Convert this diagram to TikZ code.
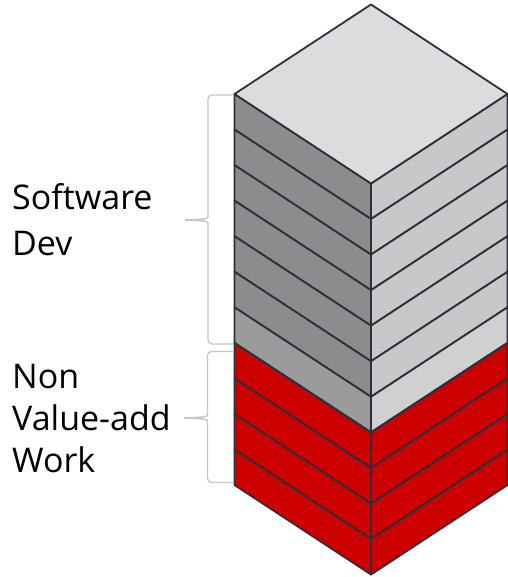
\documentclass[tikz,border=0pt]{standalone}
\usepackage{fontspec}
\setmainfont{Open Sans}
\definecolor{edge}{HTML}{2B303B}
\definecolor{topc}{HTML}{DCDCDC}
\definecolor{gl}{HTML}{8C8C8C}
\definecolor{gr}{HTML}{C8C8C8}
\definecolor{glb}{HTML}{9B9B9B}
\definecolor{grb}{HTML}{D0D0D0}
\definecolor{rd}{HTML}{CC0000}
\definecolor{brcol}{HTML}{C6C6C6}

\begin{document}
\begin{tikzpicture}[x=1pt,y=-1pt,
		face/.style={draw=edge,line width=1.8pt,line join=round},
		brc/.style={draw=brcol,line width=1.4pt,rounded corners=4pt},
		lbl/.style={font=\fontsize{34}{40}\selectfont,inner sep=0pt,anchor=base west}]
	\useasboundingbox (0,0) rectangle (507,577);
	\def\th{35.55}
	% slabs, top to bottom
	\foreach \i/\lc/\rc in {0/gl/gr,1/gl/gr,2/gl/gr,3/gl/gr,4/gl/gr,5/gl/gr,6/glb/grb,
			7/rd/rd,8/rd/rd,9/rd/rd,10/rd/rd}{
		\filldraw[face,fill=\lc] (234.5,{94+\i*\th}) -- ++(136.5,89.5) -- ++(0,\th) -- ++(-136.5,-89.5) -- cycle;
		\filldraw[face,fill=\rc] (371,{183.5+\i*\th}) -- ++(136.5,-89.5) -- ++(0,\th) -- ++(-136.5,89.5) -- cycle;
	}
	\filldraw[face,fill=topc] (371,4.5) -- (507.5,94) -- (371,183.5) -- (234.5,94) -- cycle;
	% braces
	\coordinate (tipA) at (182.5,220);
	\coordinate (tipB) at (181.5,418);
	\draw[brc] (233,95) -- (208,95) -- (208,212) .. controls (208,219) .. (tipA) .. controls (208,221) .. (208,228) -- (208,344) -- (233,344);
	\draw[brc] (233,351.5) -- (207.5,351.5) -- (207.5,410) .. controls (207.5,417) .. (tipB) .. controls (207.5,419) .. (207.5,426) -- (207.5,482.5) -- (233,482.5);
	% labels
	\node[lbl] (sw1) at (12,209) {Software};
	\node[lbl] (sw2) at (12,255) {Dev};
	\node[lbl] (nv1) at (12,388) {Non};
	\node[lbl] (nv2) at (12,430) {Value-add};
	\node[lbl] (nv3) at (12,472) {Work};
\end{tikzpicture}
\end{document}
